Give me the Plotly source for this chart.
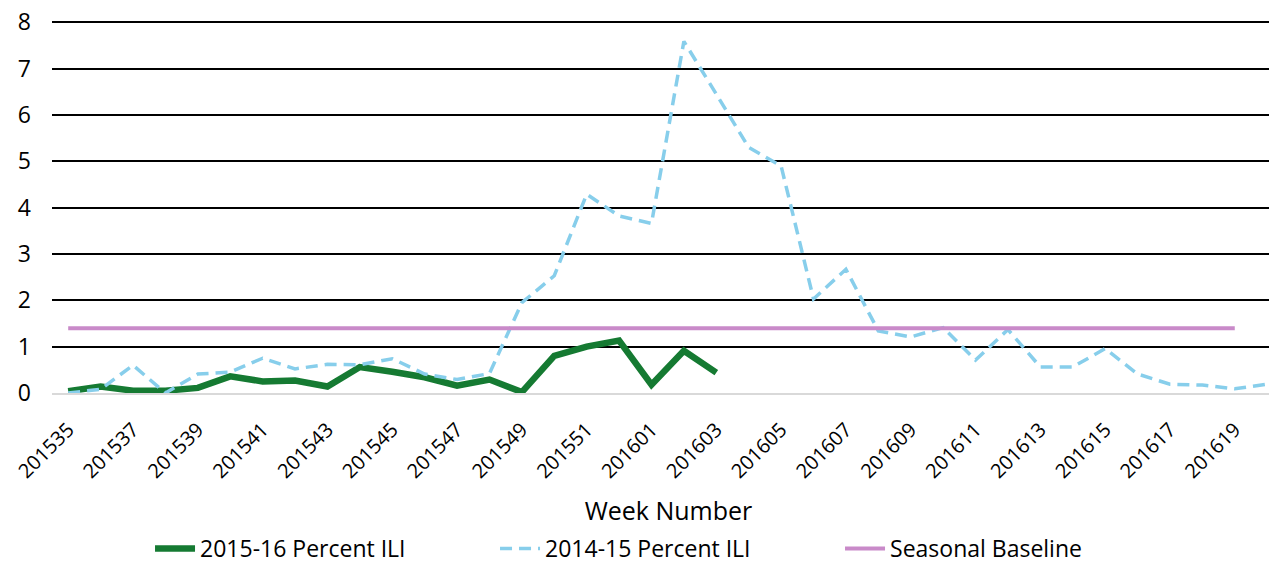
import plotly.graph_objects as go

weeks = ["201535", "201536", "201537", "201538", "201539", "201540", "201541", "201542",
         "201543", "201544", "201545", "201546", "201547", "201548", "201549", "201550",
         "201551", "201552", "201601", "201602", "201603", "201604", "201605", "201606",
         "201607", "201608", "201609", "201610", "201611", "201612", "201613", "201614",
         "201615", "201616", "201617", "201618", "201619", "201620"]

tick_labels = ["201535", "201537", "201539", "201541", "201543", "201545", "201547",
               "201549", "201551", "201601", "201603", "201605", "201607", "201609",
               "201611", "201613", "201615", "201617", "201619"]

ili_2015_16 = [0.04, 0.14, 0.05, 0.05, 0.11, 0.36, 0.25, 0.27, 0.14, 0.56, 0.46,
               0.34, 0.16, 0.29, 0.02, 0.80, 1.00, 1.13, 0.18, 0.91, 0.44]

ili_2014_15 = [0.00, 0.08, 0.60, 0.00, 0.41, 0.45, 0.75, 0.52, 0.62, 0.61, 0.74,
               0.41, 0.29, 0.42, 1.95, 2.53, 4.29, 3.82, 3.66, 7.59, 6.45, 5.30,
               4.90, 2.03, 2.67, 1.34, 1.21, 1.41, 0.71, 1.37, 0.56, 0.56, 0.96,
               0.41, 0.19, 0.17, 0.09, 0.19]

seasonal_baseline = [1.4, 1.4, 1.4, 1.4, 1.4, 1.4, 1.4, 1.4, 1.4, 1.4, 1.4, 1.4,
                     1.4, 1.4, 1.4, 1.4, 1.4, 1.4, 1.4, 1.4, 1.4, 1.4, 1.4, 1.4,
                     1.4, 1.4, 1.4, 1.4, 1.4, 1.4, 1.4, 1.4, 1.4, 1.4, 1.4, 1.4,
                     1.4]

y_ticks = [0, 1, 2, 3, 4, 5, 6, 7, 8]

FONT = "Century Gothic, Open Sans, sans-serif"

fig = go.Figure()
fig.add_trace(go.Scatter(
    x=weeks[:len(ili_2015_16)], y=ili_2015_16, mode="lines",
    name="2015-16 Percent ILI",
    line=dict(color="#157a32", width=6.5)))
fig.add_trace(go.Scatter(
    x=weeks[:len(ili_2014_15)], y=ili_2014_15, mode="lines",
    name="2014-15 Percent ILI",
    line=dict(color="#87ceeb", width=3.5, dash="12px,7px")))
fig.add_trace(go.Scatter(
    x=weeks[:len(seasonal_baseline)], y=seasonal_baseline, mode="lines",
    name="Seasonal Baseline",
    line=dict(color="#c98ac9", width=4)))

fig.update_layout(
    width=1277, height=562,
    margin=dict(l=44, r=0, t=12, b=176),
    paper_bgcolor="white", plot_bgcolor="white",
    font=dict(family=FONT, color="#000000", size=22),
    showlegend=True,
    legend=dict(orientation="h", x=0.0795, xanchor="left",
                y=-0.415, yanchor="middle",
                font=dict(size=23, family=FONT), itemwidth=40, tracegroupgap=0,
                entrywidth=290, entrywidthmode="pixels"),
)

fig.update_xaxes(
    type="category", categoryorder="array", categoryarray=weeks,
    range=[-0.5, 37.55], automargin=False,
    tickmode="array", tickvals=tick_labels, ticktext=tick_labels,
    tickangle=-45, tickfont=dict(size=20, family=FONT),
    ticks="", ticklabelstandoff=15,
    showgrid=False, showline=True, linecolor="#d9d9d9", linewidth=2,
    title=dict(text="Week Number", font=dict(size=25, family=FONT), standoff=20),
    zeroline=False,
)
fig.update_yaxes(
    range=[0, 8.05], tickmode="array", tickvals=y_ticks,
    tickfont=dict(size=23, family=FONT), automargin=False,
    ticklabeloverflow="allow",
    showgrid=True, gridcolor="#000000", gridwidth=2,
    zeroline=False, showline=False, ticks="", ticklabelstandoff=20,
)

fig.write_html("out.html")
